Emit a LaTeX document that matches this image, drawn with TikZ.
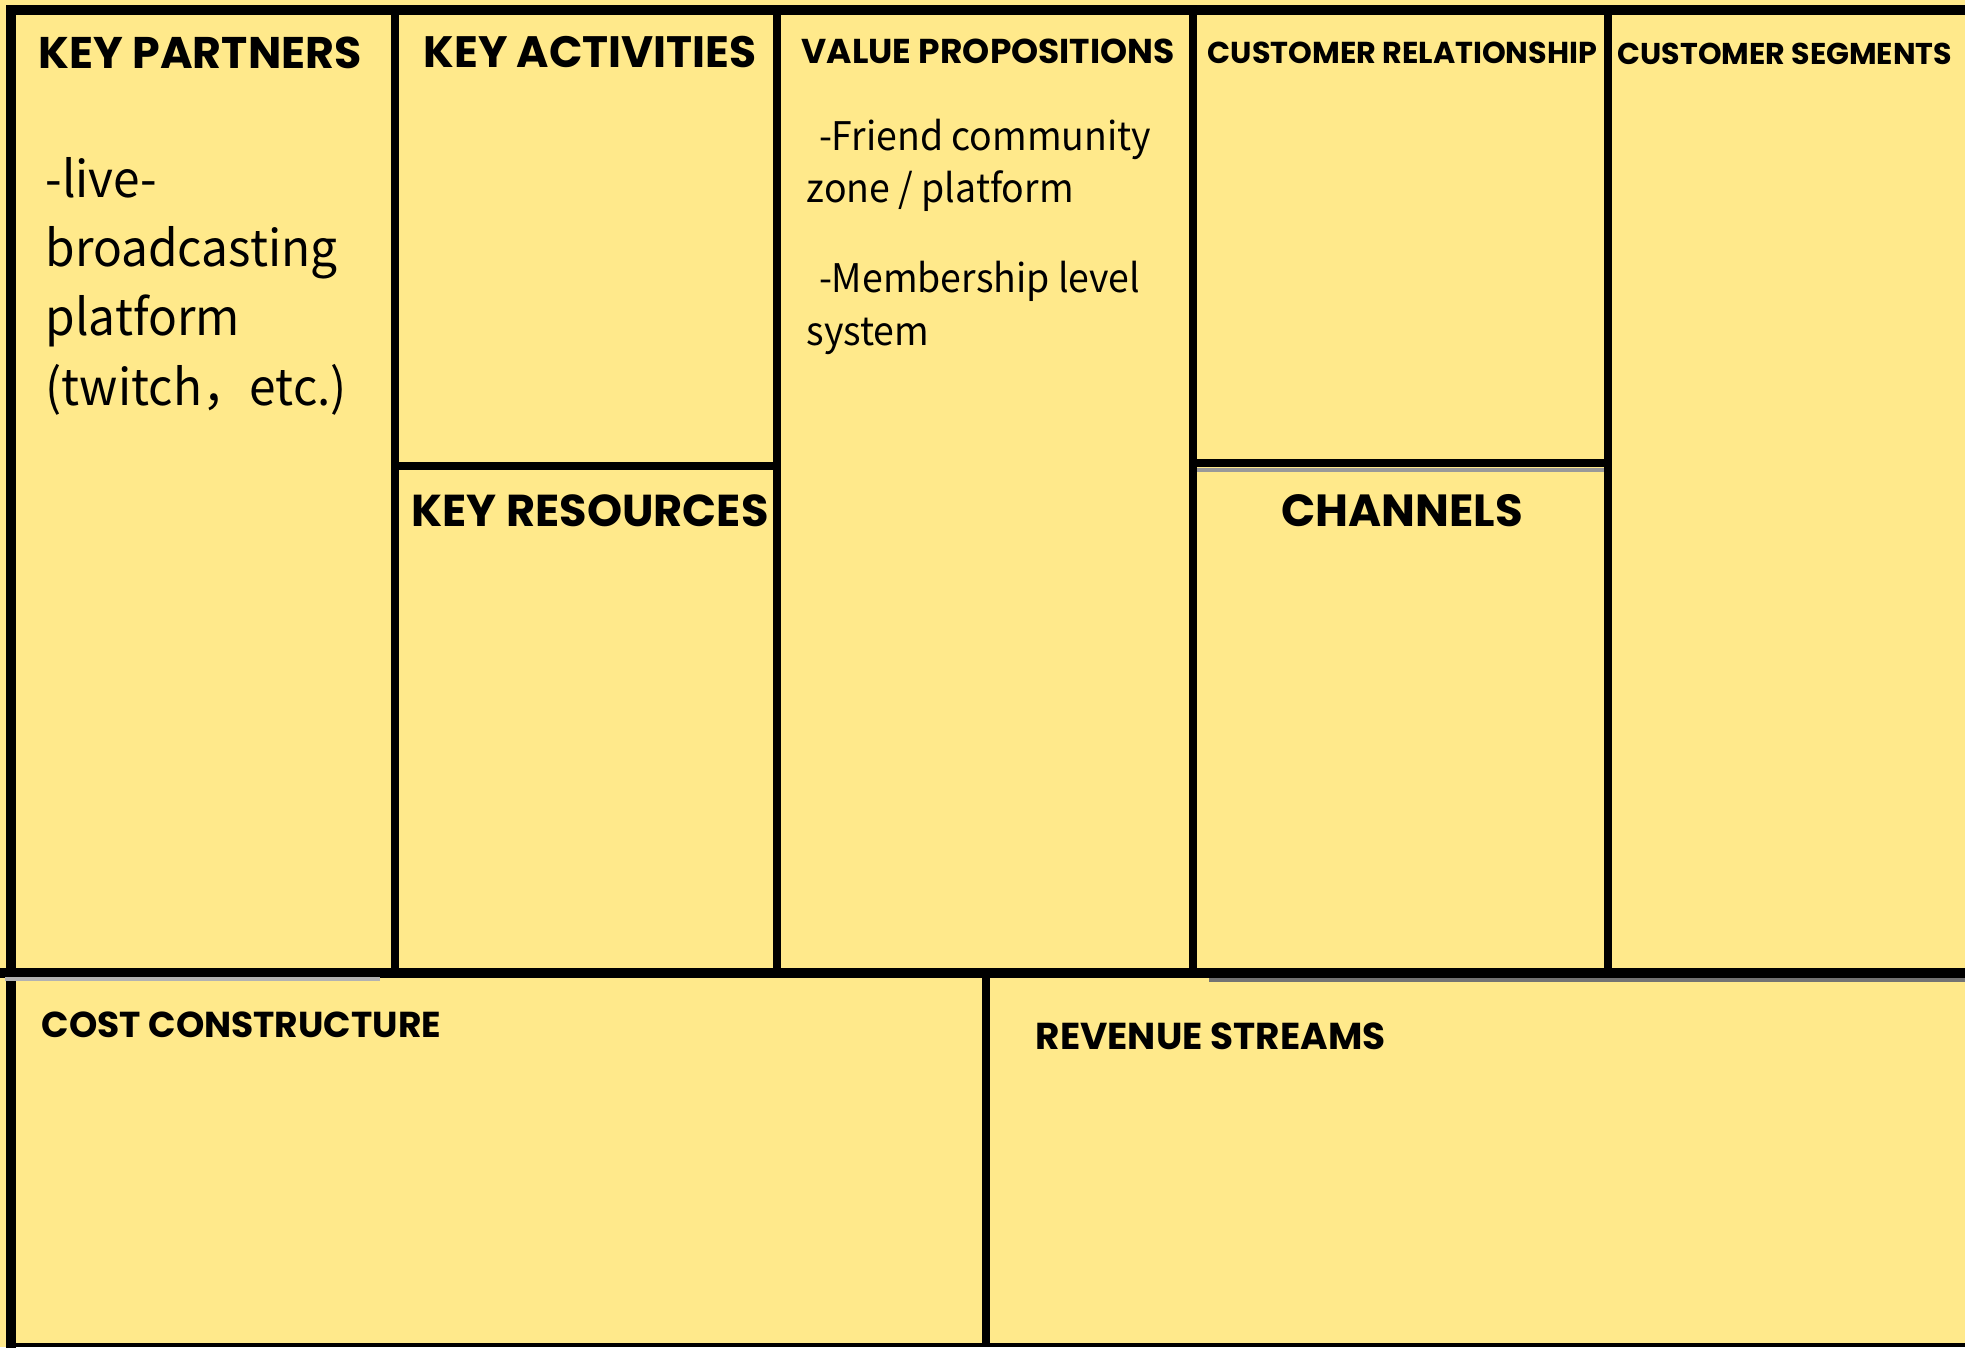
\documentclass[tikz,border=0pt]{standalone}
\usepackage{fontspec}
\usepackage{xcolor}
\setmainfont{Poppins}
\newfontfamily\bodyfont{Noto Sans CJK JP}[FakeStretch=0.95]
\definecolor{clrCanvas}{HTML}{FFE98B}
\tikzset{
  borderline/.style={line width=2.7pt, black, line cap=rect},
  divline/.style={line width=2pt, black},
  greyline/.style={line width=1pt, black!40},
  hdr/.style={anchor=base west, inner sep=0pt, font=\bfseries},
  txt/.style={anchor=base west, inner sep=0pt, align=left},
}

\begin{document}
\begin{tikzpicture}[x=0.01cm, y=-0.01cm]

\def\xL{11}     % linker Rand
\def\yT{10}     % oberer Rand
\def\yM{973}    % Trennlinie oben/unten
\def\yB{1345}   % unterer Rand
\def\xA{395}
\def\xB{777}
\def\xC{1193}
\def\xD{1608}
\def\xS{986}    % Trennung Kosten / Einnahmen
\def\yKA{466}
\def\yCR{463}

\fill[clrCanvas] (0,0) rectangle (1965,1347);
\useasboundingbox (0,0) rectangle (1965,1347);

% Rahmen
\draw[borderline] (\xL,1347) -- (\xL,\yT) -- (1965,\yT);
\draw[borderline] (5,\yM) -- (1965,\yM);
\draw[line width=1.1pt] (\xL,\yB) -- (1965,\yB);

% Spalten der oberen Reihe
\foreach \xx in {\xA,\xB,\xC,\xD}{
  \draw[divline] (\xx,\yT) -- (\xx,\yM);
}
\draw[divline] (\xS,\yM) -- (\xS,1347);

% geteilte Felder
\draw[divline, line width=2.2pt] (\xA,\yKA) -- (\xB,\yKA);
\draw[divline, line width=2.4pt] (\xC,\yCR) -- (\xD,\yCR);
\draw[greyline] (1197,470) -- (1604,470);
\draw[greyline, black!30] (5,979) -- (380,979);
\draw[greyline, black!55] (1209,980) -- (1965,980);

% Ueberschriften
\node[hdr, font=\bfseries\fontsize{12.6}{15}\selectfont] (hKP) at (38,68) {KEY PARTNERS};
\node[hdr, font=\bfseries\fontsize{12.5}{15}\selectfont] (hKA) at (423,67) {KEY ACTIVITIES};
\node[hdr, font=\bfseries\fontsize{12.7}{15}\selectfont] (hKR) at (411,526) {KEY RESOURCES};
\node[hdr, font=\bfseries\fontsize{9.8}{12}\selectfont] (hVP) at (801,63) {VALUE PROPOSITIONS};
\node[hdr, font=\bfseries\fontsize{8.6}{11}\selectfont] (hCR) at (1207,63) {CUSTOMER RELATIONSHIP};
\node[hdr, anchor=base, font=\bfseries\fontsize{12.8}{15}\selectfont] (hCH) at (1402,526) {CHANNELS};
\node[hdr, font=\bfseries\fontsize{8.55}{11}\selectfont] (hCS) at (1617,64) {CUSTOMER SEGMENTS};
\node[hdr, font=\bfseries\fontsize{10.25}{13}\selectfont] (hCost) at (41,1037) {COST CONSTRUCTURE};
\node[hdr, font=\bfseries\fontsize{10.65}{13}\selectfont] (hRev) at (1035,1049) {REVENUE STREAMS};

% Inhalte (Anker an der letzten Grundlinie)
\node[txt, font=\bodyfont\fontsize{14.3}{19.7}\selectfont] (tKP) at (45,405)
  {-live-\\broadcasting\\platform\\(twitch，etc.)};
\node[txt, font=\bodyfont\fontsize{11.2}{14.9}\selectfont] (tVP) at (806,345)
  {\hspace*{3.5pt}-Friend community\\zone / platform\\[10.7pt]%
   \hspace*{3.5pt}-Membership level\\system};

\end{tikzpicture}
\end{document}
